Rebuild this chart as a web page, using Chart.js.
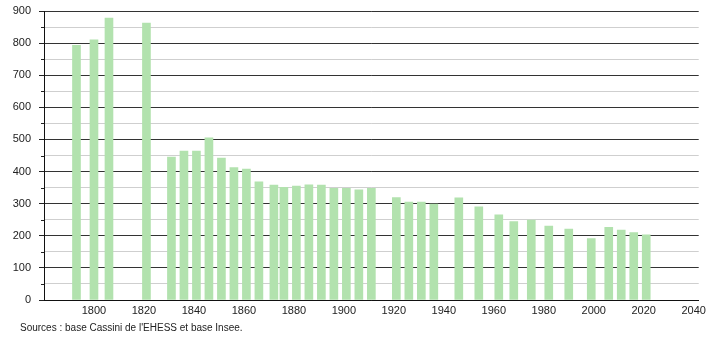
<!DOCTYPE html>
<html>
<head>
<meta charset="utf-8">
<script src="https://cdn.jsdelivr.net/npm/chart.js@4/dist/chart.umd.min.js"></script>
<style>
html,body{margin:0;padding:0;background:#fff;}
#wrap{position:relative;width:710px;height:340px;}
</style>
</head>
<body>
<div id="wrap"><canvas id="c" width="710" height="340"></canvas></div>
<script>
const years = [1793,1800,1806,1821,1831,1836,1841,1846,1851,1856,1861,1866,1872,1876,1881,1886,1891,1896,1901,1906,1911,1921,1926,1931,1936,1946,1954,1962,1968,1975,1982,1990,1999,2006,2011,2016,2021];
const population = [793,810,878,862,445,464,464,505,442,412,408,368,358,351,355,359,358,348,348,343,348,319,305,305,299,318,290,265,244,249,230,221,191,226,218,210,203];
const xTicks = [1800,1820,1840,1860,1880,1900,1920,1940,1960,1980,2000,2020,2040];
const yTicks = [0,100,200,300,400,500,600,700,800,900];
const sourceText = "Sources : base Cassini de l'EHESS et base Insee.";

const FONT = "'Liberation Sans', Arial, sans-serif";

const extras = {
  id: 'extras',
  afterDraw(chart) {
    const ctx = chart.ctx;
    const y = chart.scales.y, x = chart.scales.x;
    ctx.save();
    ctx.strokeStyle = '#222';
    ctx.lineWidth = 1;
    for (let v = 50; v < 900; v += 100) {
      const py = Math.round(y.getPixelForValue(v)) + 0.5;
      ctx.beginPath();
      ctx.moveTo(x.left - 3, py);
      ctx.lineTo(x.left, py);
      ctx.stroke();
    }
    ctx.fillStyle = '#222';
    ctx.font = "10px " + FONT;
    ctx.textBaseline = 'middle';
    ctx.textAlign = 'left';
    ctx.fillText(sourceText, 20, 328);
    ctx.restore();
  }
};

new Chart(document.getElementById('c'), {
  type: 'bar',
  data: {
    datasets: [{
      data: years.map((yr, i) => ({x: yr, y: population[i]})),
      backgroundColor: '#b2e2ae',
      borderWidth: 0,
      barThickness: 8
    }]
  },
  options: {
    responsive: false,
    animation: false,
    layout: {padding: {top: 11, right: 7, left: 0, bottom: 0}},
    plugins: {legend: {display: false}, tooltip: {enabled: false}},
    scales: {
      x: {
        type: 'linear',
        offset: false,
        min: 1780,
        max: 2042,
        afterBuildTicks(s) { s.ticks = xTicks.map(v => ({value: v})); },
        afterFit(s) { s.height = 40; },
        grid: {display: false, offset: false, drawTicks: false},
        border: {display: true, color: '#111', width: 1},
        ticks: {
          padding: 4,
          maxRotation: 0,
          autoSkip: false,
          color: '#222',
          font: {family: FONT, size: 11},
          callback: v => String(v)
        }
      },
      y: {
        min: 0,
        max: 900,
        afterBuildTicks(s) {
          const t = [];
          for (let v = 0; v <= 900; v += 50) t.push({value: v});
          s.ticks = t;
        },
        afterFit(s) { s.width = 44; s.paddingTop = 0; s.paddingBottom = 0; },
        border: {display: true, color: '#111', width: 1},
        grid: {
          color: c => (c.tick && c.tick.value % 100 === 0) ? '#333' : '#cfcfcf',
          tickColor: c => (c.tick && c.tick.value % 100 === 0) ? '#222' : 'rgba(0,0,0,0)',
          tickLength: 5,
          lineWidth: 1
        },
        ticks: {
          padding: 8,
          color: '#222',
          font: {family: FONT, size: 11},
          autoSkip: false,
          callback: v => (v % 100 === 0 ? String(v) : '')
        }
      }
    }
  },
  plugins: [extras]
});
</script>
</body>
</html>
